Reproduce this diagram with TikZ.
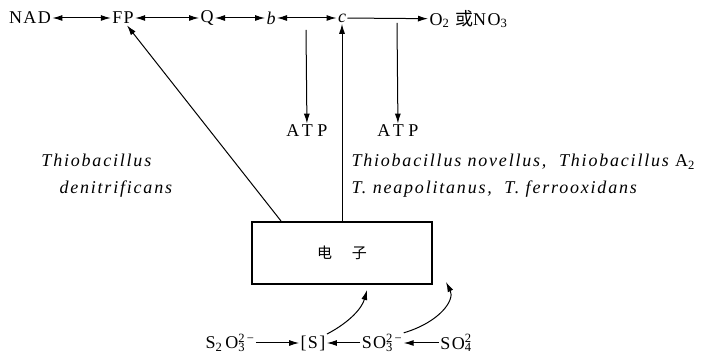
\documentclass[tikz,border=0pt]{standalone}
\usepackage{fontspec}
\setmainfont{Liberation Serif}[LetterSpace=8, ItalicFeatures={LetterSpace=10}]
\newfontfamily\cjk{Noto Sans CJK SC}
\usetikzlibrary{arrows.meta}
\newcommand\ionsubsup[2]{\rlap{\textsubscript{#1}}\textsuperscript{#2}}
\begin{document}
\begin{tikzpicture}[x=1pt,y=-1pt,line width=1pt,
  lbl/.style={inner sep=1pt, font=\fontsize{18}{20}\selectfont},
  atp/.style={inner sep=1pt, font=\fontsize{18}{20}\selectfont\addfontfeature{LetterSpace=25}},
  spc/.style={inner sep=1pt, font=\fontsize{18}{27}\selectfont\itshape, align=left},
  tip/.style={-{Latex[length=10pt,width=6pt]}},
  both/.style={{Latex[length=10pt,width=6pt]}-{Latex[length=10pt,width=6pt]}}]
\useasboundingbox (0,0) rectangle (715,355);
% top chain
\node[lbl] (NAD) at (30,18) {NAD};
\node[lbl] (FP) at (123,18) {FP};
\node[lbl] (Q) at (207,18) {Q};
\node[lbl,font=\fontsize{18}{20}\selectfont\itshape] (b) at (271,18) {b};
\node[lbl,font=\fontsize{18}{20}\selectfont\itshape] (c) at (342,18) {c};
\node[lbl,anchor=west] (O2) at (428,19) {O\textsubscript{2} {\cjk 或}NO\textsubscript{3}};
\draw[both] (NAD) -- (FP);
\draw[both] (FP) -- (Q);
\draw[both] (Q) -- (b);
\draw[both] (b) -- (c);
\draw[tip] (c) -- (O2);
% ATP branches
\coordinate (br) at (397,23);
\node[atp] (ATP2) at (398,131) {ATP};
\draw[tip] (br) -- (ATP2);
\coordinate (bc) at (306,30);
\node[atp] (ATP1) at (307,131) {ATP};
\draw[tip] (bc) -- (ATP1);
% box
\node[draw, line width=2pt, minimum width=180pt, minimum height=62pt, inner sep=0pt,
  font=\fontsize{15}{17}\selectfont] (box) at (342,253) {{\cjk 电\hspace{20pt}子}};
\draw[tip] (box.north) -- (c.south);
\draw[tip] ([xshift=30pt]box.north west) -- ([xshift=4pt]FP.south);
% species
\node[spc, anchor=west] (td) at (40,176) {Thiobacillus\\\hspace*{18pt}denitrificans};
\node[spc, anchor=west] (tn) at (350,176) {Thiobacillus novellus,\ \ Thiobacillus {\upshape A\textsubscript{2}}\\T. neapolitanus,\ \ T. ferrooxidans};
% bottom chain
\node[lbl] (s2o3) at (230,343) {S\textsubscript{2}\,O\ionsubsup{3}{2\,−}};
\node[lbl] (S) at (313,343) {[S]};
\node[lbl] (so3) at (382,343) {SO\ionsubsup{3}{2\,−}};
\node[lbl] (so4) at (456,343) {SO\ionsubsup{4}{2}};
\draw[tip] (s2o3) -- (S);
\draw[tip] (so3) -- (S);
\draw[tip] (so4) -- (so3);
\coordinate (e1) at (367,290);
\coordinate (e2) at (446,282);
\draw[tip] (S.north east) .. controls (350,322) and (362,308) .. (e1);
\draw[tip] (so3.north east) .. controls (440,322) and (455,300) .. (e2);
\end{tikzpicture}
\end{document}
